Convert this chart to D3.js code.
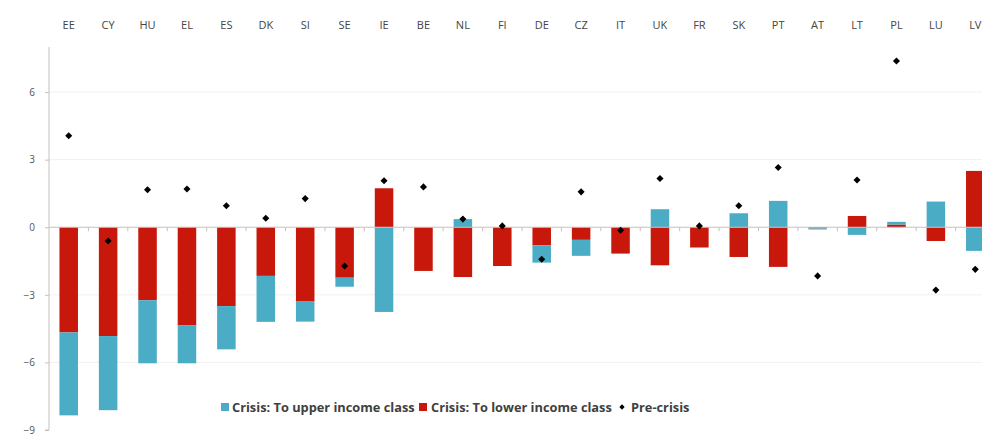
<!DOCTYPE html>
<html><head><meta charset="utf-8">
<script src="https://cdn.jsdelivr.net/npm/d3@7"></script>
<style>body{margin:0;background:#fff;overflow:hidden}svg{display:block}</style>
</head><body>
<svg id="c" width="982" height="436"></svg>
<script>
const countries = ["EE","CY","HU","EL","ES","DK","SI","SE","IE","BE","NL","FI","DE","CZ","IT","UK","FR","SK","PT","AT","LT","PL","LU","LV"];
const toUpper = [-3.68,-3.29,-2.80,-1.68,-1.92,-2.04,-0.89,-0.40,-3.76,0,0.36,0,-0.77,-0.71,0,0.80,0,0.62,1.17,-0.05,-0.34,0.12,1.14,-1.05];
const toLower = [-4.67,-4.83,-3.24,-4.36,-3.50,-2.16,-3.30,-2.24,1.73,-1.94,-2.21,-1.72,-0.80,-0.56,-1.17,-1.69,-0.90,-1.32,-1.76,-0.05,0.50,0.12,-0.61,2.50];
const preCrisis = [4.06,-0.61,1.66,1.70,0.95,0.40,1.27,-1.72,2.06,1.79,0.36,0.06,-1.42,1.57,-0.13,2.16,0.06,0.95,2.65,-2.16,2.10,7.38,-2.79,-1.87];
const yTicks = [-9,-6,-3,0,3,6];
const legendLabels = ["Crisis: To upper income class","Crisis: To lower income class","Pre-crisis"];

const colUp = "#4BACC6", colLow = "#C8180B";
const svg = d3.select("#c");
const x = d3.scaleBand().domain(countries).range([49, 995]).paddingInner(0.53).paddingOuter(0.265);
const y = d3.scaleLinear().domain([-9, 8]).range([430, 47]);

// gridlines
svg.append("g").selectAll("line").data(yTicks.filter(d => d !== 0 && d !== -9)).join("line")
  .attr("x1", 49).attr("x2", 982).attr("y1", d => y(d)).attr("y2", d => y(d))
  .attr("stroke", "#f0f0f0").attr("stroke-width", 1);

// y axis
const ya = svg.append("g").attr("transform", "translate(49,0)")
  .call(d3.axisLeft(y).tickValues(yTicks).tickSize(4).tickPadding(10).tickFormat(d3.format("d")));
ya.select(".domain").attr("stroke", "#c8c0bc").attr("d", `M-4,${y(-9)}H0V${y(8)}`);
ya.selectAll(".tick line").attr("stroke", "#c8c0bc");
ya.selectAll("text").attr("font-family", "Open Sans, sans-serif").attr("font-size", 10).attr("fill", "#555");

// bars: stacked diverging, lower nearest zero
const rows = countries.map((c, i) => ({c, up: toUpper[i], low: toLower[i], pre: preCrisis[i]}));
const segs = [];
rows.forEach(r => {
  let pos = 0, neg = 0;
  [["low", colLow], ["up", colUp]].forEach(([k, col]) => {
    const v = r[k];
    if (v >= 0) { segs.push({c: r.c, y0: pos, y1: pos + v, col}); pos += v; }
    else { segs.push({c: r.c, y0: neg, y1: neg + v, col}); neg += v; }
  });
});
svg.append("g").selectAll("rect").data(segs).join("rect")
  .attr("x", d => x(d.c)).attr("width", x.bandwidth())
  .attr("y", d => y(Math.max(d.y0, d.y1)))
  .attr("height", d => Math.abs(y(d.y0) - y(d.y1)))
  .attr("fill", d => d.col);

// zero line with category ticks
svg.append("line").attr("x1", 49).attr("x2", 982).attr("y1", y(0)).attr("y2", y(0))
  .attr("stroke", "#c8c0bc").attr("stroke-width", 1);
svg.append("g").selectAll("line").data(countries.slice(1)).join("line")
  .attr("x1", d => x(d) - x.step() * x.paddingInner() / 2).attr("x2", d => x(d) - x.step() * x.paddingInner() / 2)
  .attr("y1", y(0)).attr("y2", y(0) + 4).attr("stroke", "#c8c0bc");

// dots (rotated squares)
const diamond = d3.symbol().type(d3.symbolSquare).size(25);
svg.append("g").selectAll("path").data(rows).join("path")
  .attr("d", diamond)
  .attr("transform", d => `translate(${x(d.c) + x.bandwidth() / 2},${y(d.pre)}) rotate(45)`)
  .attr("fill", "#000");

// top category labels
svg.append("g").selectAll("text").data(countries).join("text")
  .attr("x", d => x(d) + x.bandwidth() / 2).attr("y", 29)
  .attr("text-anchor", "middle").attr("font-family", "Open Sans, sans-serif")
  .attr("font-size", 11).attr("fill", "#444").text(d => d);

// legend
const lg = svg.append("g").attr("font-family", "Open Sans, sans-serif").attr("font-size", 12.8)
  .attr("font-weight", "bold").attr("fill", "#404040");
const lx = [221, 419, 622];
lg.append("rect").attr("x", lx[0]).attr("y", 403).attr("width", 8).attr("height", 8).attr("fill", colUp);
lg.append("text").attr("x", lx[0] + 11).attr("y", 412).text(legendLabels[0]);
lg.append("rect").attr("x", lx[1]).attr("y", 403).attr("width", 8).attr("height", 8).attr("fill", colLow);
lg.append("text").attr("x", lx[1] + 12).attr("y", 412).text(legendLabels[1]);
lg.append("path").attr("d", d3.symbol().type(d3.symbolSquare).size(14)).attr("transform", `translate(${lx[2]},407) rotate(45)`).attr("fill", "#000");
lg.append("text").attr("x", lx[2] + 9).attr("y", 412).text(legendLabels[2]);
</script>
</body></html>
